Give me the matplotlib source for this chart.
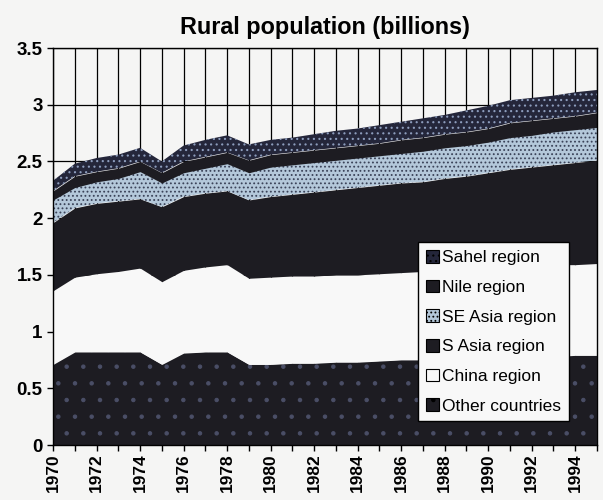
import numpy as np
import matplotlib
matplotlib.use("Agg")
from matplotlib import pyplot as plt

# Rural population (billions), one layer per region, bottom to top
years = list(range(1970, 1996))
other = [0.71, 0.82, 0.82, 0.82, 0.82, 0.71, 0.81, 0.82, 0.82, 0.71, 0.71, 0.72, 0.72,
         0.73, 0.73, 0.74, 0.75, 0.75, 0.76, 0.76, 0.77, 0.77, 0.78, 0.78, 0.79, 0.79]
china = [0.65, 0.66, 0.69, 0.71, 0.74, 0.73, 0.73, 0.75, 0.77, 0.76, 0.77, 0.77, 0.77,
         0.77, 0.77, 0.77, 0.77, 0.78, 0.78, 0.79, 0.79, 0.80, 0.80, 0.81, 0.80, 0.81]
s_asia = [0.60, 0.61, 0.62, 0.62, 0.61, 0.66, 0.65, 0.65, 0.65, 0.69, 0.71, 0.72, 0.74,
          0.75, 0.77, 0.78, 0.79, 0.79, 0.81, 0.82, 0.84, 0.86, 0.87, 0.88, 0.90, 0.91]
se_asia = [0.20, 0.18, 0.19, 0.20, 0.24, 0.21, 0.21, 0.22, 0.24, 0.24, 0.26, 0.26, 0.26,
           0.26, 0.26, 0.26, 0.26, 0.27, 0.27, 0.27, 0.27, 0.28, 0.28, 0.29, 0.29, 0.29]
nile = [0.08, 0.10, 0.09, 0.09, 0.09, 0.09, 0.10, 0.10, 0.10, 0.11, 0.11, 0.11, 0.11,
        0.11, 0.11, 0.11, 0.12, 0.12, 0.12, 0.12, 0.12, 0.13, 0.13, 0.12, 0.12, 0.13]
sahel = [0.09, 0.11, 0.12, 0.12, 0.12, 0.10, 0.14, 0.15, 0.15, 0.14, 0.13, 0.13, 0.14,
         0.15, 0.15, 0.16, 0.16, 0.17, 0.17, 0.19, 0.20, 0.20, 0.20, 0.20, 0.21, 0.20]

labels = ["Other countries", "China region", "S Asia region",
          "SE Asia region", "Nile region", "Sahel region"]
year_ticks = list(range(1970, 1995, 2))
y_ticks = [0, 0.5, 1, 1.5, 2, 2.5, 3, 3.5]
y_labels = ["0", "0.5", "1", "1.5", "2", "2.5", "3", "3.5"]

BLACK = '#1d1c22'
BG = '#f5f5f4'
# face colour, hatch, hatch colour
styles = [
    (BLACK, '.', '#4a4e66'),
    ('#f8f8f8', None, '#f8f8f8'),
    (BLACK, None, BLACK),
    ('#b4c8da', '....', '#3a4258'),
    (BLACK, None, BLACK),
    ('#24263a', '...', '#8c9cbc'),
]

plt.rcParams['font.family'] = ['Liberation Sans', 'DejaVu Sans']
plt.rcParams['hatch.linewidth'] = 0.8

fig = plt.figure(figsize=(6.03, 5.0), dpi=100)
fig.patch.set_facecolor(BG)
ax = fig.add_axes([0.088, 0.11, 0.902, 0.794])
ax.set_facecolor(BG)

polys = ax.stackplot(years, other, china, s_asia, se_asia, nile, sahel,
                     labels=labels, zorder=2)
for poly, (fc, hatch, hc) in zip(polys, styles):
    poly.set_facecolor(fc)
    poly.set_edgecolor(hc)
    poly.set_linewidth(0)
    if hatch:
        poly.set_hatch(hatch)

ax.set_xlim(1970, 1995)
ax.set_ylim(0, 3.5)
ax.set_xticks(year_ticks)
ax.set_xticklabels([str(y) for y in year_ticks], rotation=90,
                   fontsize=12.5, fontweight='bold')
ax.set_xticks(years, minor=True)
ax.set_yticks(y_ticks)
ax.set_yticklabels(y_labels, fontsize=13.5, fontweight='bold')

ax.grid(True, which='both', axis='x', color='black', linewidth=0.9, zorder=0)
ax.grid(True, which='major', axis='y', color='black', linewidth=0.9, zorder=0)
ax.set_axisbelow(True)
ax.tick_params(axis='both', which='both', direction='out', color='black',
               length=4, width=1)
ax.tick_params(axis='x', which='major', pad=2)
for sp in ax.spines.values():
    sp.set_color('black')
    sp.set_linewidth(1)

ax.set_title("Rural population (billions)", fontsize=16.8, fontweight='bold', pad=10)

# legend lists top layer first
handles, lbls = ax.get_legend_handles_labels()
leg = ax.legend(handles[::-1], lbls[::-1], loc='upper left',
                bbox_to_anchor=(0.671, 0.511), fontsize=12.5,
                frameon=True, fancybox=False, framealpha=1,
                handlelength=0.75, handleheight=0.75, handletextpad=0.2,
                labelspacing=0.82, borderpad=0.45, borderaxespad=0)
leg.get_frame().set_edgecolor('black')
leg.get_frame().set_facecolor('#f8f8f8')
leg.get_frame().set_linewidth(1)
for h in leg.legend_handles:
    h.set_edgecolor('black')
    h.set_linewidth(0.8)

fig.savefig("out.png", dpi=100, facecolor=BG)
